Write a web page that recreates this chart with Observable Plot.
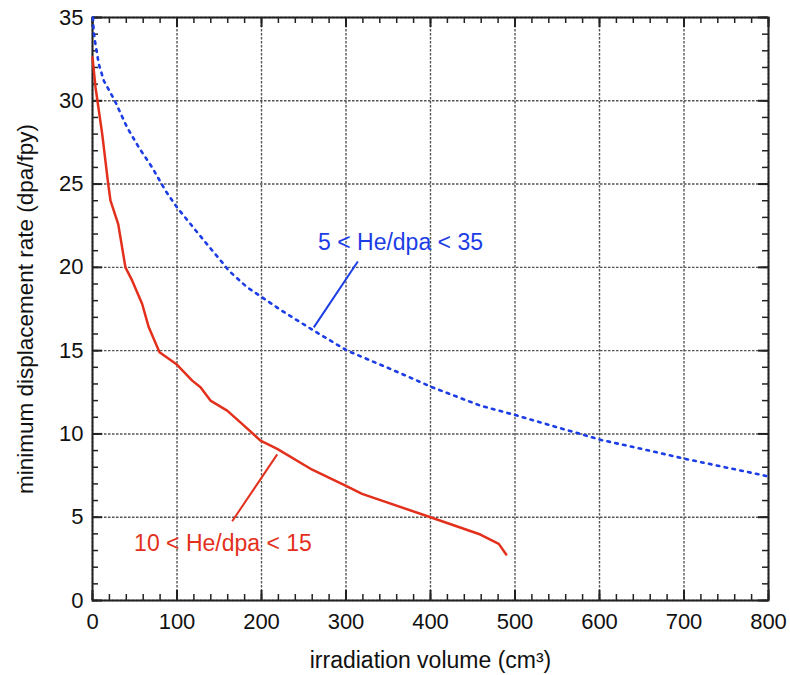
<!DOCTYPE html>
<html>
<head>
<meta charset="utf-8">
<script src="https://cdn.jsdelivr.net/npm/d3@7"></script>
<script src="https://cdn.jsdelivr.net/npm/@observablehq/plot@0.6"></script>
<style>
  html, body { margin: 0; padding: 0; background: #fff; }
  #chart { width: 790px; height: 675px; }
</style>
</head>
<body>
<div id="chart"></div>
<script>
// ---- data ----
const redVolume = [0, 3.6, 11.5, 18.6, 21.3, 25.2, 30.4, 39, 47, 58.8, 66.6, 79.3, 99, 118, 127.8, 139.6, 159.4, 177, 198.8, 218.6, 260, 299.4, 319, 400, 459, 480.8, 489.6];
const redRate   = [32.6, 30.8, 28.0, 25.0, 24.0, 23.4, 22.6, 20.0, 19.2, 17.8, 16.4, 14.9, 14.2, 13.2, 12.8, 12.0, 11.4, 10.6, 9.6, 9.1, 7.85, 6.9, 6.4, 5.0, 3.96, 3.4, 2.76];

const blueVolume = [0.5, 1.5, 3.5, 7.5, 13.4, 26.4, 41, 54.8, 70.6, 86.4, 100, 116, 133.7, 153.5, 161.3, 183, 200.8, 224, 261.9, 301.4, 352.7, 402, 459, 502.6, 550, 601, 650, 701.8, 800];
const blueRate   = [35, 34.1, 33.4, 32.2, 31.2, 30.0, 28.4, 27.2, 26.0, 24.6, 23.6, 22.6, 21.5, 20.3, 19.8, 18.8, 18.2, 17.4, 16.2, 15.0, 13.9, 12.8, 11.7, 11.1, 10.4, 9.65, 9.1, 8.5, 7.45];

const labelTexts = ["5 < He/dpa < 35", "10 < He/dpa < 15"];
const labelX = [364.5, 154.4];
const labelY = [21.5, 3.4];
const leaderX1 = [314, 218.6];
const leaderY1 = [20.35, 8.77];
const leaderX2 = [261.9, 165.3];
const leaderY2 = [16.4, 4.76];

const xTicks = [0, 100, 200, 300, 400, 500, 600, 700, 800];
const yTicks = [0, 5, 10, 15, 20, 25, 30, 35];
const xMinor = d3.range(0, 801, 20);
const yMinor = d3.range(0, 36, 1);

const xTitle = "irradiation volume (cm³)";
const yTitle = "minimum displacement rate (dpa/fpy)";

// ---- build tables ----
const red = redVolume.map((v, i) => ({x: v, y: redRate[i]}));
const blue = blueVolume.map((v, i) => ({x: v, y: blueRate[i]}));
const COLORS = ["#1c3de6", "#e3301c"];
const notes = labelTexts.map((t, i) => ({
  text: t, x: labelX[i], y: labelY[i],
  x1: leaderX1[i], y1: leaderY1[i], x2: leaderX2[i], y2: leaderY2[i], c: COLORS[i]
}));

const W = 790, H = 675;
const mL = 92, mR = 22, mT = 17, mB = 75;
const fw = W - mL - mR, fh = H - mT - mB;

const chart = Plot.plot({
  width: W, height: H,
  marginLeft: mL, marginRight: mR, marginTop: mT, marginBottom: mB,
  style: {fontFamily: "'Liberation Sans', Arial, Helvetica, sans-serif", color: "#111", background: "#fff"},
  x: {domain: [0, 800]},
  y: {domain: [0, 35]},
  marks: [
    Plot.gridX(xTicks, {stroke: "#555", strokeOpacity: 1, strokeWidth: 1.4, strokeDasharray: "2.5,1.5"}),
    Plot.gridY(yTicks, {stroke: "#555", strokeOpacity: 1, strokeWidth: 1.4, strokeDasharray: "2.5,1.5"}),
    // inward minor ticks on all sides
    Plot.tickX(xMinor, {x: d => d, insetTop: fh - 6, stroke: "#222", strokeWidth: 1.5}),
    Plot.tickX(xMinor, {x: d => d, insetBottom: fh - 6, stroke: "#222", strokeWidth: 1.5}),
    Plot.tickY(yMinor, {y: d => d, insetRight: fw - 6, stroke: "#222", strokeWidth: 1.5}),
    Plot.tickY(yMinor, {y: d => d, insetLeft: fw - 6, stroke: "#222", strokeWidth: 1.5}),
    // inward major ticks
    Plot.tickX(xTicks, {x: d => d, insetTop: fh - 10, stroke: "#222", strokeWidth: 2}),
    Plot.tickX(xTicks, {x: d => d, insetBottom: fh - 10, stroke: "#222", strokeWidth: 2}),
    Plot.tickY(yTicks, {y: d => d, insetRight: fw - 10, stroke: "#222", strokeWidth: 2}),
    Plot.tickY(yTicks, {y: d => d, insetLeft: fw - 10, stroke: "#222", strokeWidth: 2}),
    Plot.frame({stroke: "#222", strokeWidth: 2}),
    Plot.axisX(xTicks, {tickSize: 0, tickPadding: 13, fontSize: 22, label: null, fill: "#111"}),
    Plot.axisY(yTicks, {tickSize: 0, tickPadding: 9, fontSize: 22, label: null, fill: "#111"}),
    Plot.text([xTitle], {text: d => d, frameAnchor: "bottom", dy: 60, fontSize: 23, lineAnchor: "middle", textAnchor: "middle", fill: "#111"}),
    Plot.text([yTitle], {text: d => d, frameAnchor: "left", dx: -67, rotate: -90, fontSize: 22.5, lineAnchor: "middle", textAnchor: "middle", fill: "#111"}),
    Plot.line(blue, {x: "x", y: "y", stroke: COLORS[0], strokeWidth: 2.6, strokeDasharray: "2.6,5.4", curve: "linear"}),
    Plot.line(red, {x: "x", y: "y", stroke: COLORS[1], strokeWidth: 2.5, curve: "linear"}),
    Plot.link(notes, {x1: "x1", y1: "y1", x2: "x2", y2: "y2", stroke: "c", strokeWidth: 2}),
    Plot.text(notes, {x: "x", y: "y", text: "text", fill: "c", fontSize: 23, lineAnchor: "middle", textAnchor: "middle"})
  ]
});
document.getElementById("chart").appendChild(chart);
</script>
</body>
</html>
